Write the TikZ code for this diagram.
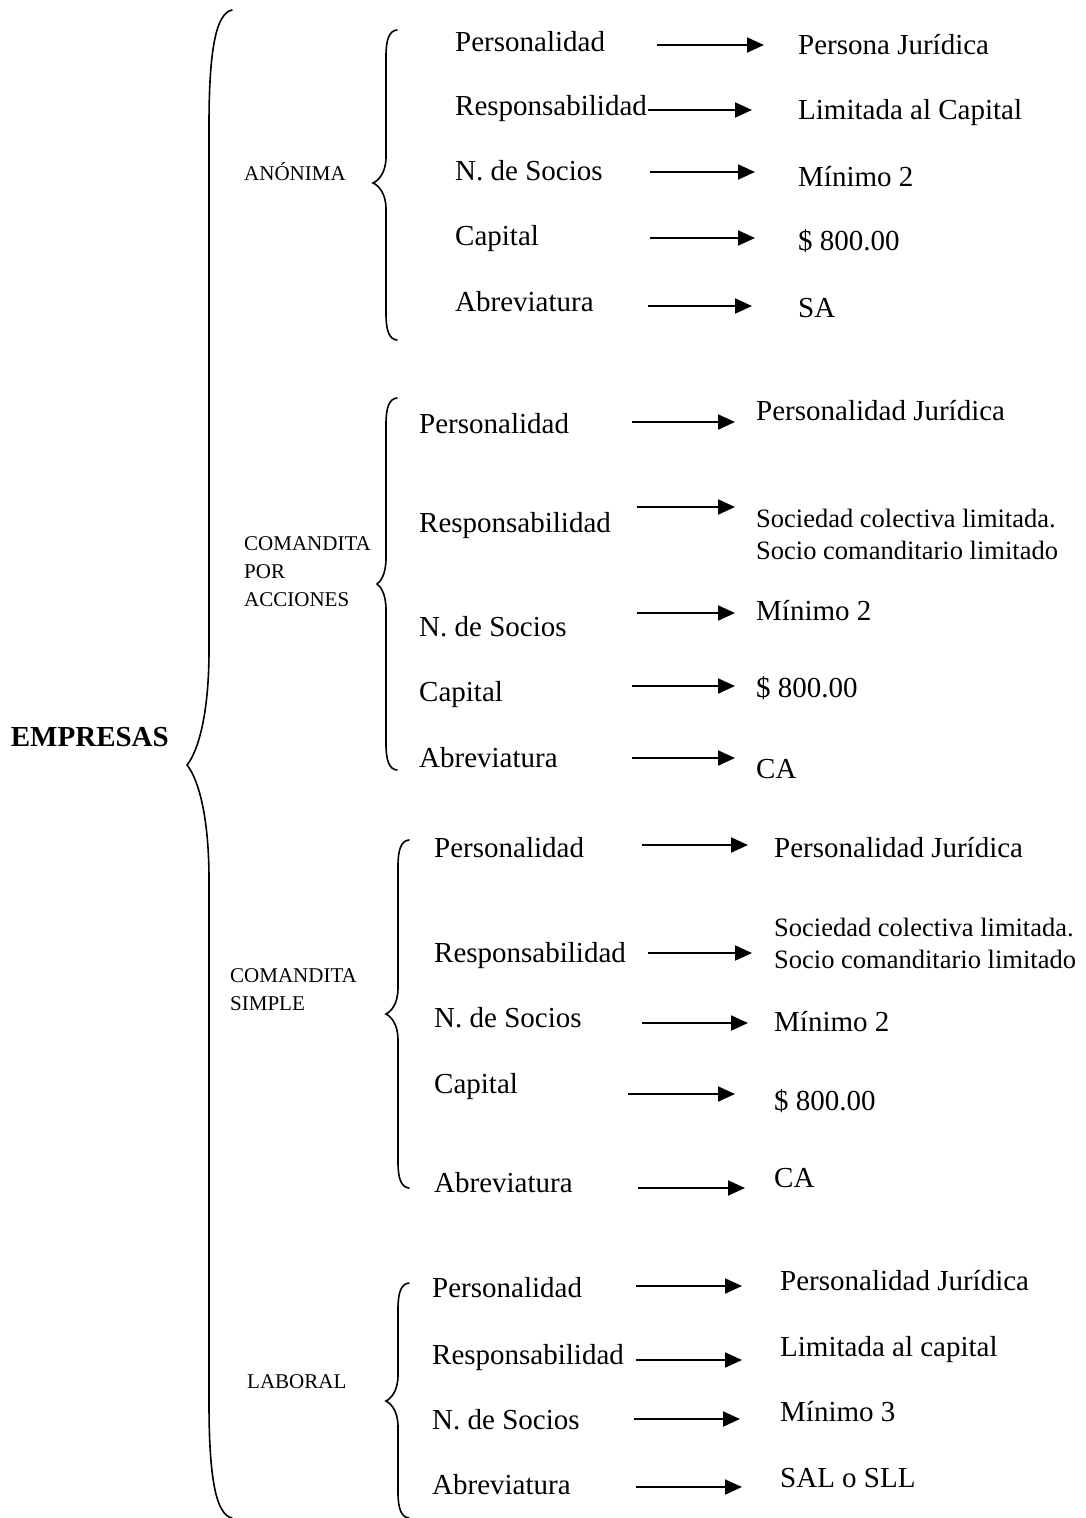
\documentclass[tikz,border=0pt]{standalone}
\usepackage{fontspec}
\setmainfont{Liberation Serif}
\usetikzlibrary{arrows.meta}

% brace: #1 stem x, #2 top y, #3 bottom y, #4 tip x, #5 tip y, #6 curl width, #7 curl length
\newcommand\bracedraw[7]{%
  \draw[brace] ({#1+#6},#2) .. controls ({#1+0.3*#6},{#2+0.03*#7}) and (#1,{#2+0.35*#7}) .. (#1,{#2+#7})
    -- (#1,{#5-#7}) .. controls (#1,{#5-0.35*#7}) and ({#4+0.35*(#1-#4)},{#5-0.08*#7}) .. (#4,#5)
    .. controls ({#4+0.35*(#1-#4)},{#5+0.08*#7}) and (#1,{#5+0.35*#7}) .. (#1,{#5+#7})
    -- (#1,{#3-#7}) .. controls (#1,{#3-0.35*#7}) and ({#1+0.3*#6},{#3-0.03*#7}) .. ({#1+#6},#3);}

\tikzset{
  brace/.style={line width=1.6pt, line cap=round},
  link/.style={line width=2pt, -{Triangle[length=17pt,width=15pt]}},
  item/.style={anchor=west, inner sep=0pt, font=\fontsize{29}{34}\selectfont, text height=20pt, text depth=6pt},
  value/.style={item},
  pair/.style={anchor=west, inner sep=0pt, align=left, font=\fontsize{26.5}{32}\selectfont},
  kind/.style={anchor=west, inner sep=0pt, align=left, font=\fontsize{21}{28}\selectfont},
  root/.style={anchor=east, inner sep=0pt, font=\fontsize{29}{34}\selectfont\bfseries}
}

\begin{document}
\begin{tikzpicture}[x=1pt, y=-1pt]
\useasboundingbox (0,0) rectangle (1086,1518);

% root and main brace
\node[root] (root) at (169,737) {EMPRESAS};
\bracedraw{209}{10}{1518}{187}{765}{23}{115}

% ---------- ANÓNIMA ----------
\node[kind] (k1) at (244,172) {ANÓNIMA};
\bracedraw{386}{30}{340}{373}{183}{11}{26}
\node[item] (p1a) at (455,44) {Personalidad};
\node[item] (p1b) at (455,108) {Responsabilidad};
\node[item] (p1c) at (455,173) {N. de Socios};
\node[item] (p1d) at (455,238) {Capital};
\node[item] (p1e) at (455,304) {Abreviatura};
\node[value] (v1a) at (798,47) {Persona Jurídica};
\node[value] (v1b) at (798,112) {Limitada al Capital};
\node[value] (v1c) at (798,179) {Mínimo 2};
\node[value] (v1d) at (798,243) {\$ 800.00};
\node[value] (v1e) at (798,310) {SA};
\coordinate (s1a) at (657,45); \coordinate (e1a) at (764,45);
\coordinate (s1b) at (648,110); \coordinate (e1b) at (752,110);
\coordinate (s1c) at (650,172); \coordinate (e1c) at (755,172);
\coordinate (s1d) at (650,238); \coordinate (e1d) at (755,238);
\coordinate (s1e) at (648,306); \coordinate (e1e) at (752,306);
\foreach \r in {a,b,c,d,e} \draw[link] (s1\r) -- (e1\r);

% ---------- COMANDITA POR ACCIONES ----------
\node[kind] (k2) at (244,572) {COMANDITA\\POR\\ACCIONES};
\bracedraw{386}{398}{770}{377}{584}{11}{26}
\node[item] (p2a) at (419,426) {Personalidad};
\node[item] (p2b) at (419,525) {Responsabilidad};
\node[item] (p2c) at (419,629) {N. de Socios};
\node[item] (p2d) at (419,694) {Capital};
\node[item] (p2e) at (419,760) {Abreviatura};
\node[value] (v2a) at (756,413) {Personalidad Jurídica};
\node[pair] (v2b) at (756,534) {Sociedad colectiva limitada.\\Socio comanditario limitado};
\node[value] (v2c) at (756,613) {Mínimo 2};
\node[value] (v2d) at (756,690) {\$ 800.00};
\node[value] (v2e) at (756,771) {CA};
\coordinate (s2a) at (632,422); \coordinate (e2a) at (735,422);
\coordinate (s2b) at (637,507); \coordinate (e2b) at (735,507);
\coordinate (s2c) at (637,613); \coordinate (e2c) at (735,613);
\coordinate (s2d) at (632,686); \coordinate (e2d) at (735,686);
\coordinate (s2e) at (632,758); \coordinate (e2e) at (735,758);
\foreach \r in {a,b,c,d,e} \draw[link] (s2\r) -- (e2\r);

% ---------- COMANDITA SIMPLE ----------
\node[kind] (k3) at (230,990) {COMANDITA\\SIMPLE};
\bracedraw{398}{840}{1188}{386}{1014}{11}{26}
\node[item] (p3a) at (434,850) {Personalidad};
\node[item] (p3b) at (434,955) {Responsabilidad};
\node[item] (p3c) at (434,1020) {N. de Socios};
\node[item] (p3d) at (434,1086) {Capital};
\node[item] (p3e) at (434,1185) {Abreviatura};
\node[value] (v3a) at (774,850) {Personalidad Jurídica};
\node[pair] (v3b) at (774,943) {Sociedad colectiva limitada.\\Socio comanditario limitado};
\node[value] (v3c) at (774,1024) {Mínimo 2};
\node[value] (v3d) at (774,1103) {\$ 800.00};
\node[value] (v3e) at (774,1180) {CA};
\coordinate (s3a) at (642,845); \coordinate (e3a) at (748,845);
\coordinate (s3b) at (648,953); \coordinate (e3b) at (752,953);
\coordinate (s3c) at (642,1023); \coordinate (e3c) at (748,1023);
\coordinate (s3d) at (628,1094); \coordinate (e3d) at (735,1094);
\coordinate (s3e) at (638,1188); \coordinate (e3e) at (745,1188);
\foreach \r in {a,b,c,d,e} \draw[link] (s3\r) -- (e3\r);

% ---------- LABORAL ----------
\node[kind] (k4) at (247,1382) {LABORAL};
\bracedraw{398}{1283}{1518}{386}{1401}{11}{26}
\node[item] (p4a) at (432,1290) {Personalidad};
\node[item] (p4b) at (432,1357) {Responsabilidad};
\node[item] (p4c) at (432,1422) {N. de Socios};
\node[item] (p4d) at (432,1487) {Abreviatura};
\node[value] (v4a) at (780,1283) {Personalidad Jurídica};
\node[value] (v4b) at (780,1349) {Limitada al capital};
\node[value] (v4c) at (780,1414) {Mínimo 3};
\node[value] (v4d) at (780,1480) {SAL o SLL};
\coordinate (s4a) at (636,1286); \coordinate (e4a) at (742,1286);
\coordinate (s4b) at (636,1360); \coordinate (e4b) at (742,1360);
\coordinate (s4c) at (634,1419); \coordinate (e4c) at (740,1419);
\coordinate (s4d) at (636,1487); \coordinate (e4d) at (742,1487);
\foreach \r in {a,b,c,d} \draw[link] (s4\r) -- (e4\r);
\end{tikzpicture}
\end{document}
